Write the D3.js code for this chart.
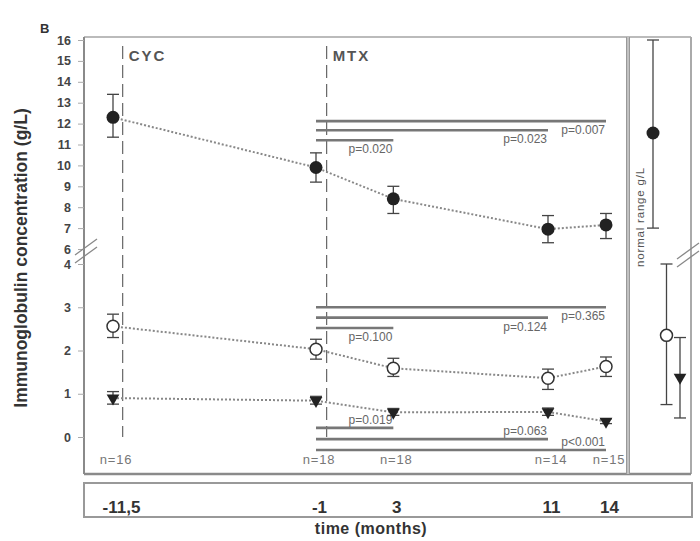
<!DOCTYPE html>
<html>
<head>
<meta charset="utf-8">
<script src="https://cdn.jsdelivr.net/npm/d3@7"></script>
<style>
  body { margin: 0; background: #fff; }
  svg text { font-family: "Liberation Sans", Arial, sans-serif; }
</style>
</head>
<body>
<div id="chart"></div>
<script>
// time points (months) and group sizes
const months = [-11.5, -1, 3, 11, 14];
const monthLabels = ["-11,5", "-1", "3", "11", "14"];
const nLabels = ["n=16", "n=18", "n=18", "n=14", "n=15"];

// IgG (upper segment)
const iggMean = [12.3, 9.9, 8.4, 6.95, 7.15];
const iggLow = [11.35, 9.2, 7.7, 6.3, 6.5];
const iggHigh = [13.4, 10.6, 9.0, 7.6, 7.7];

// IgA (lower segment)
const igaMean = [2.56, 2.03, 1.59, 1.36, 1.63];
const igaLow = [2.3, 1.8, 1.4, 1.1, 1.4];
const igaHigh = [2.84, 2.26, 1.82, 1.57, 1.85];

// IgM (lower segment)
const igmMean = [0.9, 0.84, 0.57, 0.58, 0.36];
const igmLow = [0.76, 0.76, 0.5, 0.5, 0.31];
const igmHigh = [1.05, 0.94, 0.66, 0.67, 0.42];

// comparisons from month -1 to each later visit
const pEnds = [3, 11, 14];
const iggPLevel = [11.2, 11.68, 12.12];
const iggPText = ["p=0.020", "p=0.023", "p=0.007"];
const igaPLevel = [2.52, 2.76, 3.0];
const igaPText = ["p=0.100", "p=0.124", "p=0.365"];
const igmPLevel = [0.21, -0.05, -0.3];
const igmPText = ["p=0.019", "p=0.063", "p<0.001"];

// normal ranges
const normalNames = ["IgG", "IgA", "IgM"];
const normalMean = [11.55, 2.35, 1.38];
const normalLow = [7.0, 0.75, 0.44];
const normalHigh = [16.0, 4.0, 2.3];

const upperTicks = [16, 15, 14, 13, 12, 11, 10, 9, 8, 7, 6];
const lowerTicks = [4, 3, 2, 1, 0];

const W = 700, H = 541;
const fLeft = 84, fTop = 37, fRight = 691, fBottom = 474, panelX = 628;

const svg = d3.select("#chart").append("svg")
  .attr("width", W).attr("height", H);

const x = d3.scaleLinear().domain([-11.5, 14]).range([113, 606]);
const yUp = d3.scaleLinear().domain([6, 16]).range([249, 40]);
const yLow = d3.scaleLinear().domain([0, 4]).range([437, 264]);
const xNorm = d3.scalePoint().domain(normalNames).range([653, 680]);

const frame = "#8a8a8a";
const ink = "#222";

// frame
svg.append("line").attr("x1", fLeft).attr("x2", fRight).attr("y1", fTop).attr("y2", fTop)
  .attr("stroke", "#bbb").attr("stroke-width", 2);
svg.append("line").attr("x1", fRight).attr("x2", fRight).attr("y1", fTop).attr("y2", fBottom)
  .attr("stroke", "#aaa").attr("stroke-width", 2);
svg.append("line").attr("x1", fLeft).attr("x2", fRight).attr("y1", fBottom).attr("y2", fBottom)
  .attr("stroke", frame).attr("stroke-width", 2.5);
svg.append("line").attr("x1", panelX).attr("x2", panelX).attr("y1", fTop).attr("y2", fBottom)
  .attr("stroke", "#999").attr("stroke-width", 4);
svg.append("line").attr("x1", panelX).attr("x2", panelX).attr("y1", fTop).attr("y2", fBottom)
  .attr("stroke", "#ddd").attr("stroke-width", 1.2);
svg.append("line").attr("x1", fLeft).attr("x2", fLeft).attr("y1", fTop).attr("y2", fBottom)
  .attr("stroke", frame).attr("stroke-width", 2);

// y axes
const axUp = svg.append("g").attr("transform", `translate(${fLeft},0)`)
  .call(d3.axisLeft(yUp).tickValues(upperTicks).tickFormat(d3.format("d")).tickSize(6).tickPadding(7));
const axLow = svg.append("g").attr("transform", `translate(${fLeft},0)`)
  .call(d3.axisLeft(yLow).tickValues(lowerTicks).tickFormat(d3.format("d")).tickSize(6).tickPadding(7));
[axUp, axLow].forEach(g => {
  g.select(".domain").remove();
  g.selectAll("line").attr("stroke", "#aaa");
  g.selectAll("text").attr("fill", "#444").style("font-size", "12.5px").style("font-weight", "bold");
});

// axis breaks
function breakMarks(cx, cy) {
  [-4, 4].forEach(o => {
    svg.append("line")
      .attr("x1", cx - 11).attr("y1", cy + 8 + o)
      .attr("x2", cx + 11).attr("y2", cy - 8 + o)
      .attr("stroke", "#888").attr("stroke-width", 1.3);
  });
}
breakMarks(86, 251);
breakMarks(688, 255);

// y title
svg.append("text")
  .attr("transform", "translate(27,258) rotate(-90)")
  .attr("text-anchor", "middle")
  .attr("fill", "#333")
  .style("font-size", "17.5px").style("font-weight", "bold")
  .text("Immunoglobulin concentration (g/L)");

svg.append("text").attr("x", 40).attr("y", 33)
  .attr("fill", "#333").style("font-size", "13px").style("font-weight", "bold").text("B");

// treatment start lines
[[-11, "CYC"], [-0.45, "MTX"]].forEach(([t, lab]) => {
  svg.append("line")
    .attr("x1", x(t)).attr("x2", x(t)).attr("y1", 46).attr("y2", yLow(0))
    .attr("stroke", "#666").attr("stroke-width", 1.2)
    .attr("stroke-dasharray", "13,6");
  svg.append("text").attr("x", x(t) + 6).attr("y", 61)
    .attr("fill", "#555").style("font-size", "15px").style("font-weight", "bold")
    .style("letter-spacing", "2px").text(lab);
});

// significance bars
function pBars(levels, texts, y, below) {
  levels.forEach((lv, i) => {
    svg.append("line")
      .attr("x1", x(-1)).attr("x2", x(pEnds[i]))
      .attr("y1", y(lv)).attr("y2", y(lv))
      .attr("stroke", "#777").attr("stroke-width", 2.6);
    svg.append("text")
      .attr("x", x(pEnds[i]) - 1)
      .attr("y", y(lv) + (below ? 13 : -4))
      .attr("text-anchor", "end")
      .attr("fill", "#666").style("font-size", "12px")
      .text(texts[i]);
  });
}
pBars(iggPLevel, iggPText, yUp, true);
pBars(igaPLevel, igaPText, yLow, true);
pBars(igmPLevel, igmPText, yLow, false);

// series
const tri = d3.symbol().type(d3.symbolTriangle).size(70);
function series(mean, low, high, y, shape) {
  const pts = months.map((m, i) => ({ m, v: mean[i], lo: low[i], hi: high[i] }));
  svg.append("path").datum(pts)
    .attr("d", d3.line().x(d => x(d.m)).y(d => y(d.v)))
    .attr("fill", "none").attr("stroke", "#888")
    .attr("stroke-width", 2).attr("stroke-dasharray", "2,2");
  pts.forEach(d => errorBar(x(d.m), y(d.lo), y(d.hi)));
  pts.forEach(d => marker(x(d.m), y(d.v), shape));
}
function errorBar(cx, y1, y2) {
  svg.append("line").attr("x1", cx).attr("x2", cx).attr("y1", y1).attr("y2", y2)
    .attr("stroke", "#444").attr("stroke-width", 1.3);
  [y1, y2].forEach(yy => svg.append("line")
    .attr("x1", cx - 6).attr("x2", cx + 6).attr("y1", yy).attr("y2", yy)
    .attr("stroke", "#444").attr("stroke-width", 1.3));
}
function marker(cx, cy, shape) {
  if (shape === "filled") {
    svg.append("circle").attr("cx", cx).attr("cy", cy).attr("r", 6.5).attr("fill", ink);
  } else if (shape === "open") {
    svg.append("circle").attr("cx", cx).attr("cy", cy).attr("r", 6)
      .attr("fill", "#fff").attr("stroke", "#333").attr("stroke-width", 1.5);
  } else {
    svg.append("path").attr("d", tri)
      .attr("transform", `translate(${cx},${cy}) rotate(180)`).attr("fill", ink);
  }
}
series(iggMean, iggLow, iggHigh, yUp, "filled");
series(igaMean, igaLow, igaHigh, yLow, "open");
series(igmMean, igmLow, igmHigh, yLow, "tri");

// normal range panel
const normY = [yUp, yLow, yLow];
const normShape = ["filled", "open", "tri"];
normalNames.forEach((k, i) => {
  errorBar(xNorm(k), normY[i](normalLow[i]), normY[i](normalHigh[i]));
  marker(xNorm(k), normY[i](normalMean[i]), normShape[i]);
});
svg.append("text")
  .attr("transform", "translate(644,217) rotate(-90)")
  .attr("text-anchor", "middle")
  .attr("fill", "#555").style("font-size", "11.5px")
  .style("letter-spacing", "0.8px")
  .text("normal range g/L");

// n labels
months.forEach((m, i) => {
  svg.append("text").attr("x", x(m) + 3).attr("y", 464)
    .attr("text-anchor", "middle").attr("fill", "#777")
    .style("font-size", "13px").style("letter-spacing", "0.8px").text(nLabels[i]);
});

// time box
svg.append("rect").attr("x", fLeft).attr("y", 483).attr("width", 608).attr("height", 34)
  .attr("fill", "none").attr("stroke", "#999").attr("stroke-width", 2);
const xAxis = svg.append("g").attr("transform", "translate(3,0)")
  .call(d3.axisBottom(x).tickValues(months).tickFormat((d, i) => monthLabels[i]).tickSize(0));
xAxis.select(".domain").remove();
xAxis.selectAll("text").attr("y", 507).attr("dy", "0.35em")
  .attr("fill", "#333").style("font-size", "17px").style("font-weight", "bold");
xAxis.selectAll("text").filter((d, i) => i === 0).attr("dx", 5);

svg.append("text").attr("x", 371).attr("y", 534)
  .attr("text-anchor", "middle").attr("fill", "#333")
  .style("font-size", "16px").style("font-weight", "bold")
  .style("letter-spacing", "0.5px")
  .text("time (months)");
</script>
</body>
</html>
